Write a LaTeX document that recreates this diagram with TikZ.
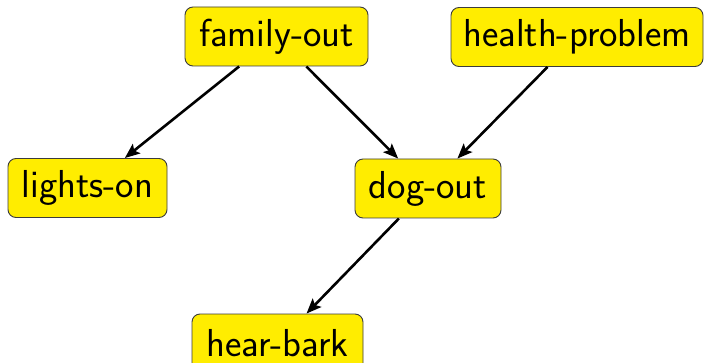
\documentclass[tikz,border=0pt]{standalone}
\usetikzlibrary{arrows.meta}
\definecolor{boxyellow}{RGB}{255,237,0}
\definecolor{boxedge}{RGB}{60,60,60}
\tikzset{
  var/.style={draw=boxedge, line width=0.9pt, fill=boxyellow, rounded corners=8pt,
    minimum height=59pt, inner xsep=10pt, inner ysep=0pt,
    font=\fontsize{39}{43}\selectfont\sffamily},
  edge/.style={-{Stealth[length=15pt,width=12pt,inset=3pt]}, line width=2.6pt, black}
}
\begin{document}
\begin{tikzpicture}[x=1pt,y=-1pt]
\useasboundingbox (0,0) rectangle (706,363);
\node[var, minimum width=183pt] (fo) at (276.5,36.5) {family-out};
\node[var, minimum width=252pt] (hp) at (577,37) {health-problem};
\node[var, minimum width=159pt] (lo) at (87.5,188) {lights-on};
\node[var, minimum width=146pt] (do) at (428,188.5) {dog-out};
\node[var, minimum width=171pt] (hb) at (277.5,343.5) {hear-bark};
\draw[edge] (fo) -- (lo);
\draw[edge] (fo) -- (do);
\draw[edge] (hp) -- (do);
\draw[edge] (do) -- (hb);
\end{tikzpicture}
\end{document}
